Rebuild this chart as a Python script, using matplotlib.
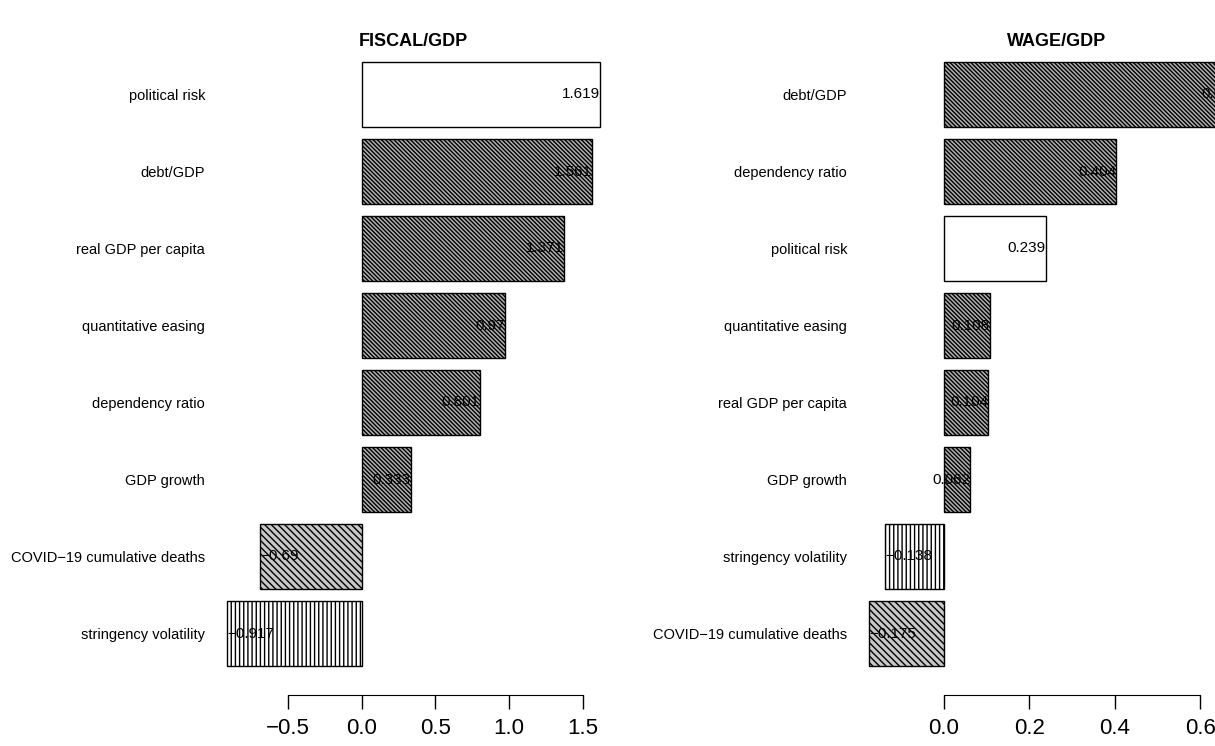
import matplotlib
matplotlib.use("Agg")
import matplotlib.pyplot as plt

plt.rcParams['font.family'] = ['Liberation Sans', 'DejaVu Sans']
plt.rcParams['hatch.linewidth'] = 1.0

fiscal_labels = ["political risk", "debt/GDP", "real GDP per capita", "quantitative easing",
                 "dependency ratio", "GDP growth", "COVID\u221219 cumulative deaths", "stringency volatility"]
fiscal_values = [1.619, 1.561, 1.371, 0.97, 0.801, 0.333, -0.69, -0.917]

wage_labels = ["debt/GDP", "dependency ratio", "political risk", "quantitative easing",
               "real GDP per capita", "GDP growth", "stringency volatility", "COVID\u221219 cumulative deaths"]
wage_values = [0.693, 0.404, 0.239, 0.108, 0.104, 0.062, -0.138, -0.175]

fiscal_ticks = [-0.5, 0.0, 0.5, 1.0, 1.5]
wage_ticks = [0.0, 0.2, 0.4, 0.6]


def style_for(label):
    if label == "political risk":
        return dict(facecolor="white", hatch=None)
    if label.startswith("COVID"):
        return dict(facecolor="#c8c8c8", hatch="\\\\\\\\\\")
    if label == "stringency volatility":
        return dict(facecolor="white", hatch="||||")
    return dict(facecolor="#b0b0b0", hatch="\\\\\\\\\\\\\\\\")


def fmt(v):
    s = ("%g" % v)
    return s.replace("-", "\u2212")


W, H = 1215, 746
fig = plt.figure(figsize=(W / 100, H / 100), dpi=100)

ytop_px, ybot_px = 50, 680
c0, step = 94.5, 77.0
ylim = ((ybot_px - c0) / step, (ytop_px - c0) / step)


def make_ax(x0_px, x1_px, xlim, labels, values, ticks, title):
    ax = fig.add_axes([x0_px / W, 1 - ybot_px / H, (x1_px - x0_px) / W, (ybot_px - ytop_px) / H])
    ys = list(range(len(values)))
    for y, v, lab in zip(ys, values, labels):
        st = style_for(lab)
        ax.barh(y, v, height=0.833, left=0, color=st["facecolor"], hatch=st["hatch"],
                edgecolor="black", linewidth=1.0)
        if v >= 0:
            ax.text(v, y, fmt(v), ha="right", va="center", fontsize=11, color="black", clip_on=False)
        else:
            ax.text(v, y, fmt(v), ha="left", va="center", fontsize=11, color="black", clip_on=False)
    ax.set_xlim(*xlim)
    ax.set_ylim(*ylim)
    ax.set_yticks(ys)
    ax.set_yticklabels(labels, fontsize=10.5)
    ax.tick_params(axis="y", length=0, pad=5)
    for s in ["top", "right", "left"]:
        ax.spines[s].set_visible(False)
    ax.spines["bottom"].set_bounds(ticks[0], ticks[-1])
    ax.spines["bottom"].set_position(("outward", 11))
    ax.set_xticks(ticks)
    ax.set_xticklabels(["%.1f" % t if t >= 0 else ("%.1f" % t).replace("-", "\u2212") for t in ticks],
                       fontsize=16)
    ax.tick_params(axis="x", length=10, width=1, direction="out", pad=6)
    ax.set_title(title, fontsize=13, fontweight="bold", pad=3)
    return ax


make_ax(212, 615, (-1.018, 1.72), fiscal_labels, fiscal_values, fiscal_ticks, "FISCAL/GDP")
make_ax(854, 1260, (-0.21, 0.74), wage_labels, wage_values, wage_ticks, "WAGE/GDP")

fig.savefig("out.png", dpi=100)
